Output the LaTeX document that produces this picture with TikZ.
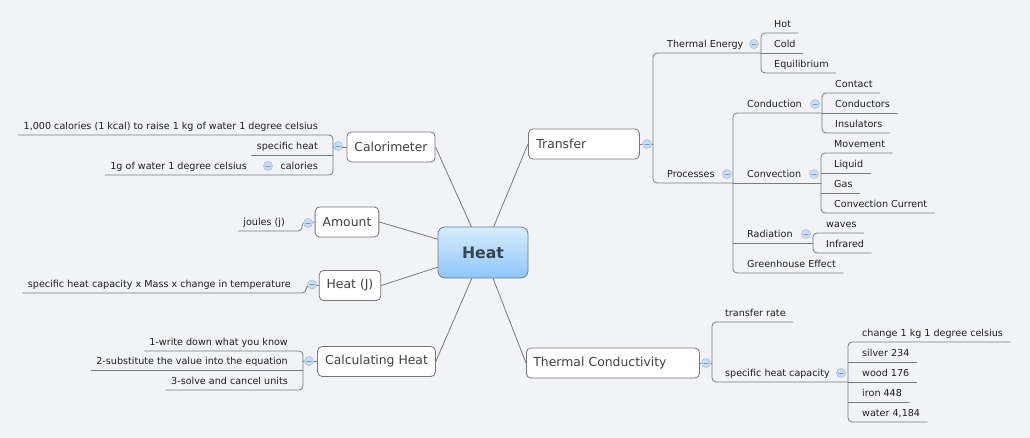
\documentclass[tikz,border=0pt]{standalone}
\usepackage{fontspec}
\setmainfont{DejaVu Sans}
\usetikzlibrary{backgrounds}
\definecolor{bgpaper}{RGB}{242,243,247}
\definecolor{linegray}{RGB}{122,122,122}
\definecolor{boxgray}{RGB}{118,118,118}
\definecolor{inkgray}{RGB}{30,30,30}
\definecolor{heattop}{RGB}{216,236,254}
\definecolor{heatbot}{RGB}{140,198,250}
\definecolor{heatedge}{RGB}{106,124,145}
\definecolor{heatink}{RGB}{56,68,80}
\definecolor{foldfill}{RGB}{203,221,242}
\definecolor{foldedge}{RGB}{164,192,228}
\definecolor{foldbar}{RGB}{120,152,198}
\tikzset{
  link/.style={draw=linegray,line width=0.8pt},
  branch/.style={draw=linegray,line width=0.8pt,rounded corners=4pt},
  topic/.style={draw=boxgray,fill=white,line width=0.8pt,rounded corners=4.5pt,
    minimum height=30pt,inner xsep=7.5pt,font=\fontsize{12.4}{15}\selectfont,text=inkgray!85!white},
  leaf/.style={font=\fontsize{9.6}{11}\selectfont,text=inkgray,inner xsep=0pt,
    inner ysep=2.5pt,text height=7.5pt,text depth=2.5pt},
  lleaf/.style={leaf,anchor=south east},
  rleaf/.style={leaf,anchor=south west},
  fold/.style={circle,draw=foldedge,fill=foldfill,line width=0.6pt,minimum size=9pt,inner sep=0pt,
    path picture={\draw[foldbar,line width=0.8pt]
      ([xshift=-2.2pt]path picture bounding box.center) -- ([xshift=2.2pt]path picture bounding box.center);}},
}
\begin{document}
\begin{tikzpicture}[x=1pt,y=-1pt,line cap=round]
  \useasboundingbox (0,0) rectangle (1030,438);
  \node[draw=heatedge,top color=heattop,bottom color=heatbot,rounded corners=7pt,line width=0.8pt,
    minimum width=90pt,minimum height=51pt,font=\bfseries\fontsize{15.7}{18}\selectfont,text=heatink]
    (heat) at (483,252.5) {Heat};

  \node[topic] (cal) at (391,147) {Calorimeter};
  \node[topic] (amt) at (347,222) {Amount};
  \node[topic] (hj) at (350,285.5) {Heat (J)};
  \node[topic] (calc) at (376.5,361.5) {Calculating Heat};
  \node[topic,anchor=west,text width=95pt,align=left,inner xsep=8pt] (tr) at (528,144) {Transfer};
  \node[topic,anchor=west,text width=159pt,align=left,inner xsep=7pt] (tc) at (526,363) {Thermal Conductivity};

  \begin{scope}[on background layer]
    \fill[bgpaper] (0,0) rectangle (1030,438);
    \draw[link] (cal.east) -- (heat.center);
    \draw[link] (amt.east) -- (heat.center);
    \draw[link] (hj.east) -- (heat.center);
    \draw[link] (calc.east) -- (heat.center);
    \draw[link] (tr.west) -- (heat.center);
    \draw[link] (tc.west) -- (heat.center);
  \end{scope}

  \node[lleaf] (c1) at (318,135) {1,000 calories (1 kcal) to raise 1 kg of water 1 degree celsius};
  \node[lleaf] (c2) at (318,155) {specific heat};
  \node[lleaf] (c3) at (318,175) {calories};
  \node[lleaf] (c4) at (247,175) {1g of water 1 degree celsius};
  \node[lleaf] (j1) at (285,231) {joules (j)};
  \node[lleaf] (h1) at (291,293) {specific heat capacity x Mass x change in temperature};
  \node[lleaf] (k1) at (288,351) {1-write down what you know};
  \node[lleaf] (k2) at (288,370) {2-substitute the value into the equation};
  \node[lleaf] (k3) at (288,390) {3-solve and cancel units};

  \node[rleaf] (te) at (667,53) {Thermal Energy};
  \node[rleaf] (pr) at (667,183) {Processes};
  \node[rleaf] (hot) at (774,33) {Hot};
  \node[rleaf] (cold) at (774,53) {Cold};
  \node[rleaf] (equi) at (774,73) {Equilibrium};
  \node[rleaf] (cd) at (747,113) {Conduction};
  \node[rleaf] (cv) at (747,183) {Convection};
  \node[rleaf] (rd) at (747,243) {Radiation};
  \node[rleaf] (gh) at (747,273) {Greenhouse Effect};
  \node[rleaf] (ct) at (835,93) {Contact};
  \node[rleaf] (cds) at (835,113) {Conductors};
  \node[rleaf] (ins) at (835,133) {Insulators};
  \node[rleaf] (mv) at (834,153) {Movement};
  \node[rleaf] (liq) at (834,173) {Liquid};
  \node[rleaf] (gas) at (834,193) {Gas};
  \node[rleaf] (cc) at (834,213) {Convection Current};
  \node[rleaf] (wv) at (826,233) {waves};
  \node[rleaf] (ir) at (826,253) {Infrared};
  \node[rleaf] (trt) at (725,322) {transfer rate};
  \node[rleaf] (shc) at (725,382) {specific heat capacity};
  \node[rleaf] (s1) at (862,342) {change 1 kg 1 degree celsius};
  \node[rleaf] (s2) at (862,362) {silver 234};
  \node[rleaf] (s3) at (862,382) {wood 176};
  \node[rleaf] (s4) at (862,402) {iron 448};
  \node[rleaf] (s5) at (862,422) {water 4,184};

  \coordinate (calB) at (333,0);  \coordinate (amtB) at (302,0);
  \coordinate (hjB) at (306,0);   \coordinate (calcB) at (303,0);
  \coordinate (trB) at (653,0);   \coordinate (teB) at (761,0);
  \coordinate (prB) at (733,0);   \coordinate (cdB) at (822,0);
  \coordinate (cvB) at (821,0);   \coordinate (rdB) at (813,0);
  \coordinate (tcB) at (712,0);   \coordinate (shcB) at (848,0);

  \draw[branch] (cal.west) -- (calB |- cal.west);
  \draw[branch] ([xshift=-5pt]c1.south west) -- (calB |- c1.south) -- (calB |- c3.south) -- ([xshift=-5pt]c4.south west);
  \draw[branch] (calB |- c2.south) -- ([xshift=-5pt]c2.south west);
  \draw[branch] (amt.west) -- (amtB |- amt.west) -- (amtB |- j1.south) -- ([xshift=-5pt]j1.south west);
  \draw[branch] (hj.west) -- (hjB |- hj.west) -- (hjB |- h1.south) -- ([xshift=-5pt]h1.south west);
  \draw[branch] (calc.west) -- (calcB |- calc.west);
  \draw[branch] ([xshift=-5pt]k1.south west) -- (calcB |- k1.south) -- (calcB |- k3.south) -- ([xshift=-5pt]k3.south west);
  \draw[branch] (calcB |- k2.south) -- ([xshift=-5pt]k2.south west);

  \draw[branch] (tr.east) -- (trB |- tr.east);
  \draw[branch] (teB |- te.south) -- (trB |- te.south) -- (trB |- pr.south) -- (prB |- pr.south);
  \draw[branch] ([xshift=7pt]hot.south east) -- (teB |- hot.south) -- (teB |- equi.south) -- ([xshift=7pt]equi.south east);
  \draw[branch] (teB |- cold.south) -- ([xshift=7pt]cold.south east);
  \draw[branch] (cdB |- cd.south) -- (prB |- cd.south) -- (prB |- gh.south) -- ([xshift=7pt]gh.south east);
  \draw[branch] (prB |- cv.south) -- (cvB |- cv.south);
  \draw[branch] (prB |- rd.south) -- (rdB |- rd.south);
  \draw[branch] ([xshift=7pt]ct.south east) -- (cdB |- ct.south) -- (cdB |- ins.south) -- ([xshift=7pt]ins.south east);
  \draw[branch] (cdB |- cds.south) -- ([xshift=7pt]cds.south east);
  \draw[branch] ([xshift=7pt]mv.south east) -- (cvB |- mv.south) -- (cvB |- cc.south) -- ([xshift=7pt]cc.south east);
  \draw[branch] (cvB |- liq.south) -- ([xshift=7pt]liq.south east);
  \draw[branch] (cvB |- gas.south) -- ([xshift=7pt]gas.south east);
  \draw[branch] ([xshift=7pt]wv.south east) -- (rdB |- wv.south) -- (rdB |- ir.south) -- ([xshift=7pt]ir.south east);
  \draw[branch] (tc.east) -- (tcB |- tc.east);
  \draw[branch] ([xshift=7pt]trt.south east) -- (tcB |- trt.south) -- (tcB |- shc.south) -- (shcB |- shc.south);
  \draw[branch] ([xshift=7pt]s1.south east) -- (shcB |- s1.south) -- (shcB |- s5.south) -- ([xshift=7pt]s5.south east);
  \foreach \s in {s2,s3,s4}
    \draw[branch] (shcB |- \s.south) -- ([xshift=7pt]\s.south east);

  \node[fold] (calF) at (338,146) {};
  \node[fold] (calsF) at (268,166) {};
  \node[fold] (amtF) at (308,223) {};
  \node[fold] (hjF) at (312,284.5) {};
  \node[fold] (calcF) at (309,361) {};
  \node[fold] (trF) at (647,144) {};
  \node[fold] (teF) at (754,44) {};
  \node[fold] (prF) at (727,174) {};
  \node[fold] (cdF) at (815,104) {};
  \node[fold] (cvF) at (814,174) {};
  \node[fold] (rdF) at (806,234) {};
  \node[fold] (tcF) at (706,363) {};
  \node[fold] (shcF) at (841,373) {};
\end{tikzpicture}
\end{document}
